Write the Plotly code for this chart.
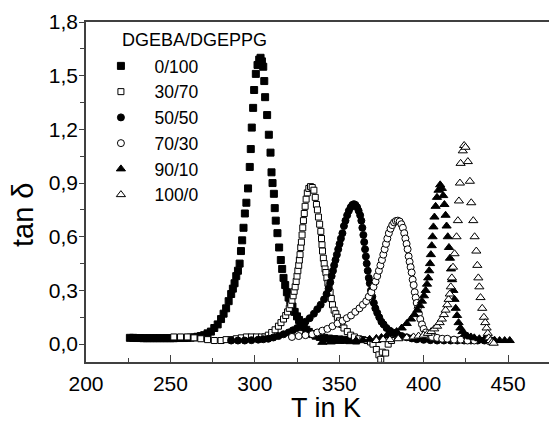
import plotly.graph_objects as go

# tan delta vs temperature for DGEBA/DGEPPG blends
t_0_100 = [226, 228, 230, 232, 234, 236, 238, 240, 242, 244, 246, 248, 250, 252, 254, 256, 258, 260,
           262, 264, 266, 268, 270, 272, 274, 276, 278, 280, 281.5, 283, 284.5, 286, 287, 288, 289, 290,
           291, 291.8, 292.5, 293.3, 294.1, 295.0, 296.0, 297.0, 297.6, 298.2, 299.0, 299.6, 300.6,
           301.6, 302.6, 303.4, 304.2, 305.0, 305.6, 306.1, 307.3, 308.3, 309.3, 309.9, 310.5, 311.3,
           311.8, 312.4, 313.4, 314.4, 315.4, 316.2, 317.0, 318.0, 319.0, 320.0, 321.0, 322.3, 323.6,
           325.0, 326.2, 327.5, 329.0, 330.5, 332.0, 334.0, 336.0, 338.5, 341, 344, 347, 350, 353, 356, 360]
d_0_100 = [0.035, 0.035, 0.034, 0.034, 0.033, 0.033, 0.033, 0.033, 0.033, 0.033, 0.033, 0.033, 0.033,
           0.033, 0.034, 0.034, 0.034, 0.035, 0.036, 0.038, 0.041, 0.045, 0.05, 0.06, 0.07, 0.09, 0.11,
           0.14, 0.17, 0.2, 0.24, 0.28, 0.31, 0.34, 0.38, 0.41, 0.45, 0.52, 0.58, 0.65, 0.73, 0.79, 0.87,
           0.99, 1.09, 1.21, 1.32, 1.42, 1.51, 1.56, 1.59, 1.60, 1.58, 1.55, 1.47, 1.38, 1.28, 1.17, 1.07,
           0.96, 0.90, 0.84, 0.76, 0.69, 0.62, 0.54, 0.47, 0.42, 0.37, 0.33, 0.29, 0.26, 0.24, 0.21, 0.18,
           0.155, 0.135, 0.115, 0.095, 0.08, 0.068, 0.056, 0.047, 0.04, 0.035, 0.031, 0.028, 0.026, 0.024,
           0.022, 0.02]

t_30_70 = [252, 256, 260, 264, 268, 272, 276, 280, 283, 286, 289, 292, 295, 298, 301, 304, 306, 308, 310,
           312, 314, 315.5, 317, 318.3, 319.4, 320.4, 321.3, 322, 322.7, 323.3, 323.9, 324.5, 325, 325.5,
           326, 326.4, 326.8, 327.2, 327.6, 328, 328.4, 328.8, 329.3, 329.8, 330.4, 331.1, 332, 333, 334,
           335, 335.8, 336.5, 337.1, 337.7, 338.4, 339.1, 339.5, 339.8, 340.1, 340.6, 341.1, 341.6, 342.1,
           342.7, 343.3, 344, 344.6, 345.3, 346, 347, 348, 348.9, 350.2, 351.5, 352.8, 354.8, 356.8, 359,
           361.5, 364, 366.5, 368.5, 370, 372, 373.5, 374.6, 375.5, 377.5, 379, 381]
d_30_70 = [0.04, 0.04, 0.04, 0.035, 0.03, 0.025, 0.02, 0.02, 0.025, 0.025, 0.03, 0.035, 0.04, 0.04, 0.04,
           0.04, 0.04, 0.05, 0.065, 0.08, 0.10, 0.12, 0.14, 0.16, 0.18, 0.20, 0.22, 0.245, 0.27, 0.295,
           0.32, 0.35, 0.38, 0.41, 0.44, 0.47, 0.50, 0.54, 0.57, 0.61, 0.65, 0.69, 0.73, 0.77, 0.81, 0.845,
           0.87, 0.88, 0.875, 0.86, 0.82, 0.78, 0.75, 0.71, 0.67, 0.63, 0.59, 0.555, 0.52, 0.48, 0.45, 0.42,
           0.40, 0.37, 0.34, 0.32, 0.29, 0.255, 0.22, 0.19, 0.17, 0.15, 0.13, 0.11, 0.09, 0.07, 0.05, 0.04,
           0.03, 0.025, 0.02, 0.012, 0.0, -0.03, -0.06, -0.085, -0.045, -0.05, 0.0, 0.02]

t_50_50 = [286, 290, 294, 298, 302, 305, 308, 311, 314, 317, 320, 322.5, 325, 327.5, 330, 332.5, 335, 337,
           339, 341, 342.5, 343.7, 344.7, 345.5, 346.3, 347, 347.8, 348.6, 349.4, 350.2, 351, 351.9, 352.8,
           353.7, 354.7, 355.7, 356.8, 357.8, 358.7, 359.6, 360.6, 361.5, 362.4, 363.1, 363.7, 364.3, 364.8,
           365.3, 365.8, 366.3, 366.9, 367.5, 368.1, 368.8, 369.6, 370.5, 371.4, 372.5, 373.7, 375, 376.3,
           378, 380, 382, 384.2, 387, 390, 393, 396, 400, 404, 408, 412, 416, 420, 424, 428, 432, 436, 440]
d_50_50 = [0.02, 0.02, 0.02, 0.022, 0.025, 0.027, 0.03, 0.037, 0.045, 0.055, 0.065, 0.077, 0.09, 0.105,
           0.125, 0.145, 0.17, 0.195, 0.22, 0.25, 0.28, 0.31, 0.345, 0.38, 0.41, 0.44, 0.47, 0.50, 0.53,
           0.56, 0.59, 0.62, 0.66, 0.69, 0.72, 0.745, 0.765, 0.778, 0.782, 0.778, 0.765, 0.745, 0.72, 0.69,
           0.65, 0.61, 0.57, 0.53, 0.49, 0.45, 0.41, 0.37, 0.34, 0.30, 0.265, 0.23, 0.20, 0.175, 0.15, 0.125,
           0.11, 0.09, 0.075, 0.064, 0.055, 0.045, 0.038, 0.032, 0.027, 0.024, 0.022, 0.02, 0.02, 0.02,
           0.02, 0.02, 0.02, 0.02, 0.02, 0.02]

t_70_30 = [322, 326, 330, 334, 337, 340, 343, 346, 349, 352, 354.5, 357, 359.5, 362, 364, 366, 367.5, 369,
           370.3, 371.5, 372.5, 373.5, 374.4, 375.3, 376.1, 376.9, 377.7, 378.5, 379.4, 380.4, 381.4, 382.5,
           383.6, 384.7, 385.8, 386.8, 387.7, 388.5, 389.2, 389.9, 390.5, 391.1, 391.7, 392.3, 392.9, 393.5,
           394.1, 394.7, 395.3, 395.9, 396.5, 397.2, 398, 399, 400, 401.3, 403, 405, 408, 411, 414, 418,
           422, 426, 430]
d_70_30 = [0.04, 0.045, 0.05, 0.055, 0.065, 0.075, 0.085, 0.10, 0.115, 0.13, 0.145, 0.16, 0.18, 0.20, 0.22,
           0.24, 0.265, 0.29, 0.32, 0.35, 0.38, 0.41, 0.44, 0.47, 0.50, 0.53, 0.56, 0.59, 0.62, 0.645, 0.665,
           0.68, 0.688, 0.69, 0.685, 0.67, 0.65, 0.62, 0.59, 0.56, 0.53, 0.49, 0.46, 0.43, 0.40, 0.36, 0.33,
           0.29, 0.26, 0.23, 0.20, 0.17, 0.14, 0.11, 0.085, 0.065, 0.05, 0.04, 0.035, 0.03, 0.03, 0.025,
           0.025, 0.02, 0.02]

t_90_10 = [340, 345, 350, 355, 360, 364, 368, 372, 375, 378, 381, 384, 387, 390, 392.5, 394.5, 396.3, 397.8,
           399, 400.2, 401.2, 402.0, 402.7, 403.3, 403.8, 404.3, 404.8, 405.3, 405.8, 406.4, 407.1, 407.9,
           408.8, 409.8, 410.8, 411.6, 412.3, 413.0, 413.6, 414.3, 415.0, 415.6, 416.2, 416.9, 417.6, 418.3,
           419.0, 419.8, 420.7, 421.8, 423, 424.5, 426, 428, 430, 433, 436, 439, 442, 445, 448, 451]
d_90_10 = [0.01, 0.012, 0.015, 0.018, 0.02, 0.023, 0.027, 0.032, 0.037, 0.045, 0.055, 0.07, 0.09, 0.115,
           0.14, 0.165, 0.19, 0.215, 0.24, 0.27, 0.30, 0.335, 0.37, 0.41, 0.45, 0.50, 0.55, 0.60, 0.655,
           0.71, 0.77, 0.82, 0.86, 0.89, 0.87, 0.83, 0.78, 0.72, 0.66, 0.60, 0.54, 0.48, 0.42, 0.36, 0.30,
           0.25, 0.20, 0.16, 0.12, 0.09, 0.07, 0.055, 0.045, 0.04, 0.035, 0.03, 0.027, 0.025, 0.022, 0.02,
           0.02, 0.02]

t_100_0 = [372, 376, 380, 385, 390, 394, 397, 400, 402.5, 404.5, 406.3, 408, 409.5, 410.8, 412, 413, 414,
           414.8, 415.5, 416.1, 416.7, 417.4, 418.3, 419.5, 420.3, 420.9, 421.5, 421.9, 423.2, 424.0, 424.8,
           426.2, 427.4, 428.2, 429.4, 430.2, 431.2, 431.8, 432.4, 433.0, 433.7, 434.7, 435.7, 436.5, 437.3,
           438.0, 438.6, 439.5, 440.5, 441.5]
d_100_0 = [0.02, 0.025, 0.025, 0.03, 0.035, 0.04, 0.045, 0.05, 0.06, 0.07, 0.085, 0.10, 0.12, 0.14, 0.165,
           0.19, 0.22, 0.25, 0.28, 0.32, 0.37, 0.43, 0.505, 0.60, 0.69, 0.80, 0.90, 1.01, 1.08, 1.11, 1.10,
           1.02, 0.91, 0.79, 0.69, 0.60, 0.52, 0.44, 0.37, 0.32, 0.26, 0.20, 0.15, 0.12, 0.09, 0.06, 0.035,
           0.02, 0.01, 0.005]

series = [
    ("0/100", t_0_100, d_0_100, "square", "black", 7),
    ("30/70", t_30_70, d_30_70, "square", "white", 6),
    ("50/50", t_50_50, d_50_50, "circle", "black", 7),
    ("70/30", t_70_30, d_70_30, "circle", "white", 7),
    ("90/10", t_90_10, d_90_10, "triangle-up", "black", 8),
    ("100/0", t_100_0, d_100_0, "triangle-up", "white", 8),
]

FONT = "Liberation Sans, Arial, sans-serif"

# page body has an 8px margin, so the figure is 8px smaller than the window
W, H = 549, 418
L, T, B = 78, 14, 64
PW, PH = W - L, H - T - B

fig = go.Figure()
for name, t, d, sym, fill, size in series:
    fig.add_trace(go.Scatter(
        x=t, y=d, mode="markers", name=name,
        marker=dict(symbol=sym, size=size, color=fill, line=dict(color="black", width=1)),
    ))

fig.update_layout(
    width=W, height=H,
    margin=dict(l=L, r=0, t=T, b=B),
    paper_bgcolor="white", plot_bgcolor="white",
    separators=",.",
    font=dict(family=FONT, color="black"),
    showlegend=True,
    legend=dict(x=0.003, y=1 - (40 - T) / PH, xanchor="left", yanchor="top",
                bgcolor="rgba(0,0,0,0)", font=dict(size=17.5, family=FONT),
                itemwidth=57, tracegroupgap=0),
)

fig.update_xaxes(
    range=[200, 479], tick0=200, dtick=50, showgrid=False, zeroline=False,
    showline=True, linecolor="#404040", linewidth=1.5, mirror=True,
    ticks="inside", ticklen=7, tickwidth=1, tickcolor="#404040",
    tickfont=dict(size=21), ticklabelstandoff=2,
    minor=dict(ticks="inside", ticklen=4, dtick=25, tickcolor="#404040"),
)
fig.update_yaxes(
    range=[-0.1, 1.8], tick0=0, dtick=0.3, tickformat=".1f", showgrid=False, zeroline=False,
    showline=True, linecolor="#404040", linewidth=1.5, mirror=False,
    ticks="outside", ticklen=5, tickwidth=1, tickcolor="#404040",
    tickfont=dict(size=21), ticklabelstandoff=-3,
    minor=dict(ticks="outside", ticklen=4, dtick=0.15, tickcolor="#404040"),
)

# legend heading and axis titles
fig.add_annotation(text="DGEBA/DGEPPG", xref="paper", yref="paper", x=(112 - L) / PW, y=1 - (32 - T) / PH,
                   xanchor="left", yanchor="middle", showarrow=False, font=dict(size=18, family=FONT))
fig.add_annotation(text="T in K", xref="paper", yref="paper", x=(318 - L) / PW, y=-(H - 1 - T - PH) / PH,
                   xanchor="center", yanchor="bottom", showarrow=False, font=dict(size=27, family=FONT))
fig.add_annotation(text="tan δ", xref="paper", yref="paper", x=-(L - 15) / PW, y=1 - (207 - T) / PH,
                   xanchor="center", yanchor="middle", textangle=-90, showarrow=False,
                   font=dict(size=29, family=FONT))

fig.write_html("out.html")
